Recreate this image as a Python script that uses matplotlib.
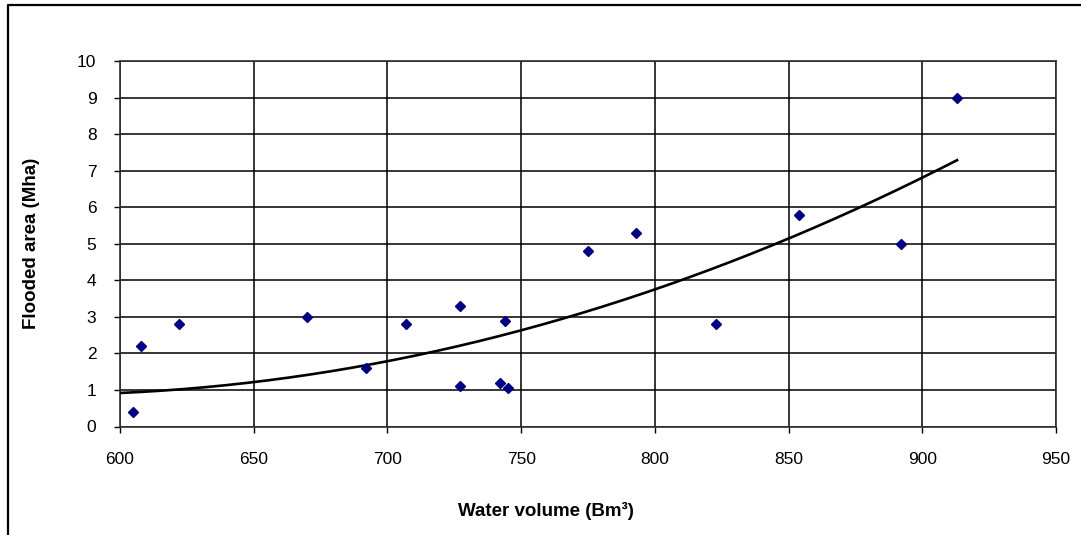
import numpy as np
import matplotlib
matplotlib.use("Agg")
import matplotlib.pyplot as plt
from matplotlib.lines import Line2D

plt.rcParams['font.family'] = ['Liberation Sans', 'DejaVu Sans']

# water volume (Bm3) vs flooded area (Mha)
volume = [605, 608, 622, 670, 692, 707, 727, 727, 742, 744, 745,
          775, 793, 823, 854, 892, 913]
area = [0.4, 2.2, 2.8, 3.0, 1.6, 2.8, 3.3, 1.1, 1.2, 2.9, 1.05,
        4.8, 5.3, 2.8, 5.8, 5.0, 9.0]

# trend line
trend_x = [600, 623.5, 650, 700, 707, 750, 771, 850, 878, 900, 912.5]
trend_y = [0.86, 1.0, 1.24, 1.87, 2.0, 2.6, 3.0, 5.02, 6.0, 6.9, 7.3]

xticks = [600, 650, 700, 750, 800, 850, 900, 950]
yticks = list(range(0, 11))

fig = plt.figure(figsize=(10.81, 5.35), dpi=100)
ax = fig.add_axes([120/1081, 1 - 426.5/535, 936/1081, 365.5/535])

coef = np.polyfit(trend_x, trend_y, 2)
xs = np.linspace(600, max(volume), 200)
ax.plot(xs, np.polyval(coef, xs), color='black', lw=1.9, zorder=3)

ax.plot(volume, area, 'D', color='#000080', markersize=5, zorder=4)

ax.set_xlim(600, 950)
ax.set_ylim(0, 10)
ax.set_xticks(xticks)
ax.set_yticks(yticks)
ax.grid(True, color='black', lw=1.1)
ax.set_axisbelow(True)
for s in ax.spines.values():
    s.set_color('#303030')
    s.set_linewidth(1.2)
ax.tick_params(direction='out', length=4.5, width=1, labelsize=12.5)
ax.tick_params(axis='x', pad=14)
ax.tick_params(axis='y', pad=12.5)

ax.set_xlabel('Water volume (Bm³)', fontsize=13.5, fontweight='bold')
ax.xaxis.set_label_coords(0.455, -0.23)
ax.xaxis.label.set_va('center')
ax.set_ylabel('Flooded area (Mha)', fontsize=13.5, fontweight='bold')
ax.yaxis.set_label_coords(-0.095, 0.5)
ax.yaxis.label.set_va('center')

# outer frame (cropped on right and bottom)
W, H = 1081, 535
fig.add_artist(Line2D([8/W, 8/W, 1.0], [0.0, 1 - 5/H, 1 - 5/H],
                      transform=fig.transFigure, color='black', lw=1.6))

fig.savefig('out.png', dpi=100)
